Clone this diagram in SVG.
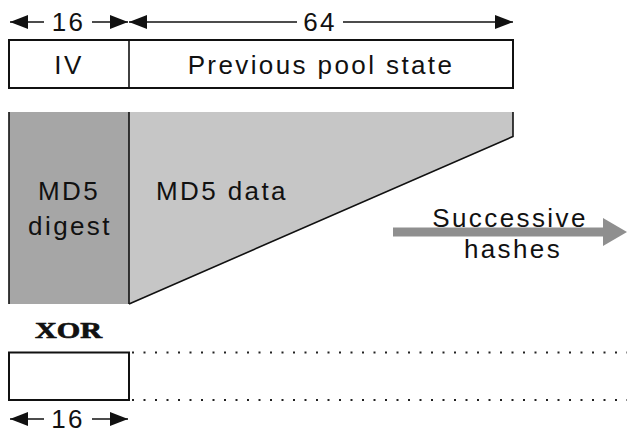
<svg xmlns="http://www.w3.org/2000/svg" width="627" height="434" viewBox="0 0 627 434">
<defs>
<style>
.t{font-family:"Liberation Sans",Arial,Helvetica,sans-serif;font-size:26px;letter-spacing:2.4px;fill:#111;}
.m{text-anchor:middle;}
.box{fill:#fff;stroke:#111;stroke-width:2;}
.ln{stroke:#111;stroke-width:1.6;fill:none;}
.dim{stroke:#111;stroke-width:1.6;fill:none;marker-end:url(#ah);}
.dot{stroke:#222;stroke-width:2;fill:none;stroke-dasharray:2 9.5;}
</style>
<marker id="ah" markerUnits="userSpaceOnUse" markerWidth="19" markerHeight="15" refX="18" refY="7" orient="auto">
<path d="M0,0 L18,7 L0,14 z" fill="#111"/>
</marker>
</defs>
<rect width="627" height="434" fill="#fff"/>

<g id="pool">
<rect class="box" x="9" y="40" width="504" height="48"/>
<line class="ln" x1="129" y1="40" x2="129" y2="88" stroke-width="2"/>
<text class="t m" x="69" y="74">IV</text>
<text class="t m" x="321" y="74">Previous pool state</text>
</g>

<g id="md5">
<rect x="9" y="112" width="120" height="192" fill="#a6a6a6"/>
<polygon points="129,112 513,112 513,136.5 129,304" fill="#c6c6c6"/>
<line class="ln" x1="9" y1="112" x2="9" y2="304"/>
<line class="ln" x1="129" y1="112" x2="129" y2="304"/>
<polyline class="ln" points="513,112 513,136.5 129,304"/>
<text class="t m" x="69" y="200">MD5</text>
<text class="t m" x="70" y="235">digest</text>
<text class="t" x="156" y="200">MD5 data</text>
</g>

<g id="successive">
<rect x="393" y="227.5" width="211" height="9" fill="#8f8f8f"/>
<polygon points="603,218 627,232 603,246" fill="#8f8f8f"/>
<text class="t m" x="510" y="227">Successive</text>
<text class="t m" x="513" y="258">hashes</text>
</g>

<g id="xor">
<text x="35" y="338" textLength="67" lengthAdjust="spacingAndGlyphs" style="font-family:'Liberation Serif','Times New Roman',serif;font-weight:bold;font-size:23px;fill:#111;stroke:#111;stroke-width:0.7">XOR</text>
<rect class="box" x="9" y="352.5" width="120" height="47.5" stroke-width="1.6"/>
</g>

<g id="connectors">
<line class="dim" x1="44" y1="22" x2="10" y2="22"/>
<line class="dim" x1="92" y1="22" x2="128" y2="22"/>
<line class="dim" x1="297" y1="22" x2="129" y2="22"/>
<line class="dim" x1="343" y1="22" x2="513" y2="22"/>
<line class="dim" x1="44" y1="419" x2="10" y2="419"/>
<line class="dim" x1="92" y1="419" x2="128" y2="419"/>
<line class="dot" x1="132" y1="352.5" x2="627" y2="352.5"/>
<line class="dot" x1="132" y1="400" x2="627" y2="400"/>
</g>

<g id="labels">
<text class="t m" x="68.5" y="31">16</text>
<text class="t m" x="320" y="31">64</text>
<text class="t m" x="68" y="428">16</text>
</g>
</svg>
